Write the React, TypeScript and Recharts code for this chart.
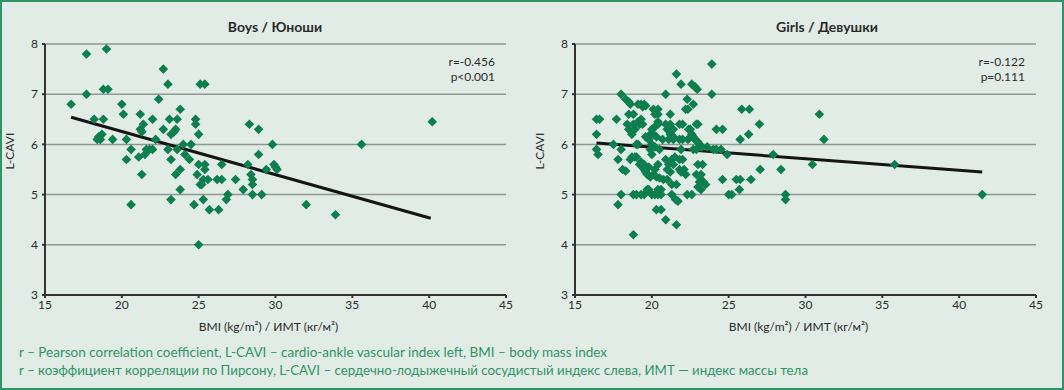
import React from 'react';
import { ScatterChart, Scatter, XAxis, YAxis, CartesianGrid, ReferenceLine, Label } from 'recharts';

const xTicks = [15, 20, 25, 30, 35, 40, 45];
const yTicks = [3, 4, 5, 6, 7, 8];

const boysPoints: number[][] = [
  [16.7, 6.8], [17.7, 7.8], [17.7, 7.0], [19.0, 7.9], [18.8, 7.1], [19.1, 7.1], [18.2, 6.5], [18.8, 6.5],
  [18.4, 6.1], [18.5, 6.15], [18.7, 6.2], [18.6, 6.1], [19.4, 6.1], [20.0, 6.8], [20.1, 6.6], [20.3, 6.1],
  [20.6, 5.9], [20.3, 5.7], [20.6, 4.8], [21.2, 6.6], [21.2, 6.3], [21.4, 6.4], [21.3, 6.25], [21.1, 5.75],
  [21.3, 5.4], [21.5, 5.8], [21.6, 5.9], [21.8, 5.9], [22.0, 5.9], [22.0, 6.5], [22.2, 6.1], [22.4, 6.9],
  [22.7, 7.5], [22.7, 6.3], [23.0, 7.2], [23.1, 6.5], [23.0, 5.9], [23.2, 5.7], [23.2, 4.9], [23.2, 6.2],
  [23.4, 6.25], [23.5, 6.3], [23.6, 6.5], [23.8, 6.7], [23.5, 5.4], [23.8, 5.5], [23.8, 5.1], [24.0, 6.0],
  [24.1, 5.8], [24.4, 5.7], [24.5, 6.0], [23.6, 5.9], [24.8, 6.5], [24.8, 6.4], [25.0, 6.2], [24.7, 4.8],
  [25.0, 4.0], [25.0, 5.6], [24.9, 5.4], [25.1, 5.2], [25.3, 5.3], [25.2, 5.2], [25.4, 5.5], [25.4, 5.6],
  [25.1, 7.2], [25.4, 7.2], [25.3, 4.9], [25.7, 4.7], [25.6, 5.3], [26.2, 5.3], [26.5, 5.3], [26.5, 5.6],
  [26.3, 4.7], [26.8, 4.9], [26.9, 5.0], [27.4, 5.3], [27.9, 5.1], [28.2, 5.6], [28.3, 6.4], [28.4, 5.4],
  [28.5, 5.3], [28.5, 5.2], [28.5, 5.0], [28.9, 6.3], [28.9, 5.8], [29.1, 5.0], [29.4, 5.5], [29.8, 6.0],
  [29.9, 5.6], [30.0, 5.55], [30.1, 5.5], [32.0, 4.8], [33.9, 4.6], [35.6, 6.0], [40.2, 6.45],
];

const girlsPoints: number[][] = [
  [16.4, 6.5], [16.6, 6.5], [16.4, 6.2], [16.4, 5.9], [16.5, 5.8], [17.5, 6.0], [17.7, 6.5], [17.8, 5.7],
  [18.0, 5.9], [18.1, 5.5], [18.0, 5.0], [17.8, 4.8],
  [18.0, 7.0], [18.3, 6.9], [18.5, 6.85], [18.6, 6.8], [18.5, 6.6], [18.4, 6.4], [18.5, 6.3], [18.7, 6.2],
  [18.8, 6.6], [18.8, 5.0], [18.8, 4.2], [18.7, 5.75], [18.9, 5.75], [18.6, 5.7], [18.3, 5.47], [18.8, 6.4],
  [18.9, 6.3], [19.0, 6.0],
  [19.1, 6.8], [19.3, 6.8], [19.4, 6.75], [19.5, 6.8], [19.6, 6.77], [19.1, 6.45], [19.2, 6.4], [19.3, 6.5],
  [19.4, 6.4], [19.1, 6.0], [19.0, 5.75], [19.2, 5.6], [19.4, 5.55], [19.5, 5.5], [19.6, 5.45], [19.7, 5.4],
  [19.3, 5.0], [19.7, 5.1], [19.0, 5.0], [19.5, 5.0], [19.8, 5.1], [19.3, 5.65], [19.5, 5.6], [19.8, 5.55],
  [19.9, 5.35], [19.9, 6.2], [19.6, 6.15], [19.8, 6.1], [19.9, 5.9],
  [20.1, 6.7], [20.2, 6.6], [20.4, 6.7], [20.4, 6.6], [20.0, 6.3], [20.1, 6.2], [20.2, 6.35], [20.4, 6.45],
  [20.4, 6.4], [20.3, 6.15], [20.0, 6.0], [20.2, 5.95], [20.5, 5.9], [20.0, 5.8], [20.0, 5.0], [20.4, 5.0],
  [20.3, 4.7], [20.6, 4.7], [20.4, 5.1], [20.6, 5.1], [20.2, 5.0], [20.6, 5.0], [20.1, 5.4], [20.3, 5.35],
  [20.5, 5.33], [20.2, 5.5], [20.4, 5.6], [20.7, 6.1], [20.75, 5.3], [20.9, 7.0],
  [20.9, 6.4], [21.0, 6.3], [21.2, 6.6], [21.2, 6.2], [21.4, 6.15], [21.1, 6.1], [20.9, 5.7], [21.1, 5.6],
  [21.3, 5.7], [21.0, 5.5], [21.3, 5.2], [21.6, 5.2], [20.9, 4.5], [21.6, 4.4], [21.55, 4.9], [21.6, 7.4],
  [21.2, 5.45], [21.4, 5.6], [21.0, 5.3], [21.5, 5.75], [21.7, 4.87], [21.4, 6.3], [21.2, 6.4], [21.4, 6.1],
  [21.3, 5.0], [21.8, 6.4], [21.8, 6.1], [21.9, 5.9], [21.8, 5.7], [21.8, 5.5], [21.9, 5.45],
  [21.9, 7.2], [22.2, 6.7], [22.3, 6.9], [22.7, 6.8], [22.6, 7.2], [22.8, 7.15], [22.95, 7.1], [22.0, 5.7],
  [22.1, 5.5], [22.3, 5.0], [22.4, 6.3], [22.6, 6.2], [22.7, 6.15], [22.0, 6.4], [22.0, 6.1], [22.35, 6.1],
  [22.35, 6.7], [22.2, 5.4], [22.6, 5.0], [22.7, 5.9], [22.9, 5.9], [22.9, 6.4], [22.5, 6.3], [22.8, 6.1],
  [23.0, 6.4], [23.0, 6.05], [23.25, 5.95], [23.1, 6.0], [23.0, 5.6], [22.9, 5.4], [23.1, 5.25], [23.2, 5.3],
  [23.35, 5.25], [23.0, 5.15], [23.2, 5.1], [23.3, 5.6], [23.2, 5.4], [23.5, 5.2], [23.9, 7.6], [23.9, 7.0],
  [23.6, 5.95], [24.0, 5.9],
  [24.2, 6.3], [24.6, 6.3], [24.2, 5.9], [24.5, 5.9], [24.9, 5.8], [24.6, 5.3], [25.0, 5.0], [25.2, 5.0],
  [25.85, 6.7], [26.35, 6.7], [25.75, 6.1], [26.3, 6.2], [25.5, 5.3], [25.75, 5.3], [25.7, 5.1], [26.45, 5.3],
  [27.0, 6.4], [27.05, 5.5], [27.9, 5.8], [28.4, 5.5], [28.7, 5.0], [28.7, 4.9], [30.45, 5.6], [30.9, 6.6],
  [31.2, 6.1], [35.8, 5.6], [41.5, 5.0],
];

const boysTrend: number[][] = [[16.7, 6.54], [40.1, 4.53]];
const girlsTrend: number[][] = [[16.4, 6.03], [41.5, 5.45]];

const boysStats = ['r=-0.456', 'p<0.001'];
const girlsStats = ['r=-0.122', 'p=0.111'];

const titles = ['Boys / Юноши', 'Girls / Девушки'];
const xLabel = 'BMI (kg/m²) / ИМТ (кг/м²)';
const yLabel = 'L-CAVI';
const notes = [
  'r – Pearson correlation coefficient, L-CAVI – cardio-ankle vascular index left, BMI – body mass index',
  'r – коэффициент корреляции по Пирсону, L-CAVI – сердечно-лодыжечный сосудистый индекс слева, ИМТ — индекс массы тела',
];

const GREEN = '#0d7f4f';
const BG = '#e2ece7';
const FRAME = '#2f9466';
const TEXT = '#2a2a2a';
const FONT = 'Lato, "Open Sans", sans-serif';

const Diamond = (props: any) => {
  const { cx, cy } = props;
  if (cx == null || cy == null) return null;
  const r = 4.8;
  return <path d={`M${cx},${cy - r}L${cx + r},${cy}L${cx},${cy + r}L${cx - r},${cy}Z`} fill={GREEN} />;
};

function Panel({ points, trend, stats }: { points: number[][]; trend: number[][]; stats: string[] }) {
  const data = points.map(([x, y]) => ({ x, y }));
  return (
    <ScatterChart width={530} height={340} margin={{ top: 44, right: 24, bottom: 0, left: 0 }}>
      <CartesianGrid vertical={false} stroke="#8e9792" strokeWidth={1.5} />
      <XAxis
        type="number"
        dataKey="x"
        domain={[15, 45]}
        ticks={xTicks}
        allowDataOverflow
        height={45}
        stroke="#333"
        strokeWidth={2}
        tickSize={3}
        tickMargin={2}
        tick={{ fill: TEXT, fontSize: 12, fontFamily: FONT }}
      >
        <Label value={xLabel} position="insideBottom" offset={9} dx={-7} fill={TEXT} fontSize={12} fontFamily={FONT} />
      </XAxis>
      <YAxis
        type="number"
        dataKey="y"
        domain={[3, 8]}
        ticks={yTicks}
        allowDataOverflow
        width={45}
        stroke="#333"
        strokeWidth={2}
        tickSize={3}
        tickMargin={4}
        tick={{ fill: TEXT, fontSize: 12, fontFamily: FONT }}
      >
        <Label value={yLabel} angle={-90} position="insideLeft" offset={10} fill={TEXT} fontSize={12} fontFamily={FONT} />
      </YAxis>
      <Scatter data={data} shape={Diamond} isAnimationActive={false} />
      <ReferenceLine
        segment={[{ x: trend[0][0], y: trend[0][1] }, { x: trend[1][0], y: trend[1][1] }]}
        stroke="#151515"
        strokeWidth={3}
      />
      <ReferenceLine
        segment={[{ x: 45, y: 7.64 }, { x: 45, y: 7.64 }]}
        stroke="none"
        label={{ value: stats[0], position: 'insideRight', fill: TEXT, fontSize: 12, fontFamily: FONT, dx: -6 } as any}
      />
      <ReferenceLine
        segment={[{ x: 45, y: 7.34 }, { x: 45, y: 7.34 }]}
        stroke="none"
        label={{ value: stats[1], position: 'insideRight', fill: TEXT, fontSize: 12, fontFamily: FONT, dx: -6 } as any}
      />
    </ScatterChart>
  );
}

export default function App() {
  return (
    <div
      style={{
        position: 'absolute',
        left: 0,
        top: 0,
        width: 1064,
        height: 390,
        boxSizing: 'border-box',
        border: `2px solid ${FRAME}`,
        background: BG,
        fontFamily: FONT,
        overflow: 'hidden',
      }}
    >
      <div style={{ position: 'absolute', left: -2, top: -2 }}>
        <div style={{ position: 'absolute', left: 0, top: 0 }}>
          <Panel points={boysPoints} trend={boysTrend} stats={boysStats} />
        </div>
        <div style={{ position: 'absolute', left: 530, top: 0 }}>
          <Panel points={girlsPoints} trend={girlsTrend} stats={girlsStats} />
        </div>
        <div style={{ position: 'absolute', left: 175, top: 18, width: 200, textAlign: 'center', fontWeight: 700, fontSize: 14, color: TEXT }}>
          {titles[0]}
        </div>
        <div style={{ position: 'absolute', left: 727, top: 18, width: 200, textAlign: 'center', fontWeight: 700, fontSize: 14, color: TEXT }}>
          {titles[1]}
        </div>
        <svg width={1064} height={390} style={{ position: 'absolute', left: 0, top: 0, pointerEvents: 'none' }}>
          <text x={19} y={357} fill={FRAME} fontSize={13} fontFamily={FONT} textLength={588} lengthAdjust="spacingAndGlyphs">
            {notes[0]}
          </text>
          <text x={19} y={375} fill={FRAME} fontSize={13} fontFamily={FONT} textLength={789} lengthAdjust="spacingAndGlyphs">
            {notes[1]}
          </text>
        </svg>
      </div>
    </div>
  );
}
